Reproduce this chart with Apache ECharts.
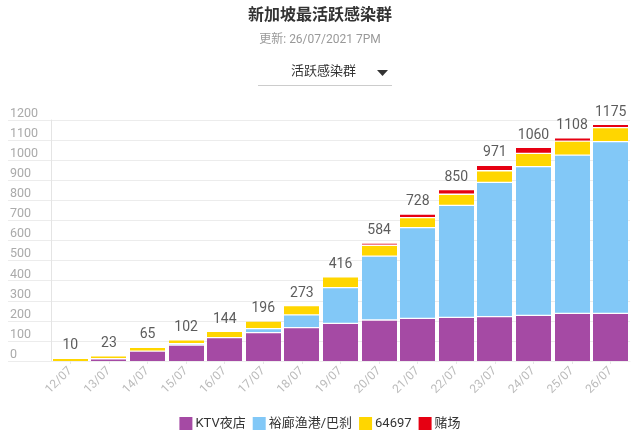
<!DOCTYPE html>
<html>
<head>
<meta charset="utf-8">
<script src="https://cdn.jsdelivr.net/npm/echarts@6/dist/echarts.min.js"></script>
<style>html,body{margin:0;padding:0;background:#fff}#c{width:640px;height:437px}</style>
</head>
<body>
<div id="c"></div>
<script>
const categories = ['12/07','13/07','14/07','15/07','16/07','17/07','18/07','19/07','20/07','21/07','22/07','23/07','24/07','25/07','26/07'];
const ktv = [0, 8, 46, 76, 113, 138, 163, 184, 201, 209, 214, 218, 224, 234, 234];
const jurong = [0, 0, 0, 7, 0, 20, 63, 178, 318, 452, 558, 668, 741, 788, 855];
const c64697 = [10, 15, 19, 19, 31, 38, 47, 54, 54, 50, 55, 58, 66, 70, 70];
const casino = [0, 0, 0, 0, 0, 0, 0, 0, 11, 17, 23, 27, 29, 16, 16];
const totals = [10, 23, 65, 102, 144, 196, 273, 416, 584, 728, 850, 971, 1060, 1108, 1175];
const yTicks = [0, 1200, 100];
const seriesNames = ['KTV夜店', '裕廊渔港/巴刹', '64697', '赌场'];
const colors = ['#a54aa4', '#82c8f7', '#ffd600', '#e60012'];

const FONT = 'Roboto, "Noto Sans CJK SC", sans-serif';
const chart = echarts.init(document.getElementById('c'), null, {renderer: 'canvas'});
const dataSets = [ktv, jurong, c64697, casino];

function makeRender(si) {
  return function (params, api) {
    const idx = api.value(0);
    const v = api.value(1);
    if (!v) return null;
    let base = 0;
    for (let k = 0; k < si; k++) base += dataSets[k][idx];
    const p0 = api.coord([idx, base]);
    const p1 = api.coord([idx, base + v]);
    const bw = api.size([1, 0])[0] * 0.906;
    const x = Math.round(p0[0] - bw / 2);
    const yTop = p1[1];
    const yBot = base > 0 ? p0[1] - 1.3 : p0[1];
    return {
      type: 'rect',
      shape: {x: x, y: yTop, width: Math.round(bw), height: Math.max(yBot - yTop, 0)},
      style: {fill: colors[si]}
    };
  };
}

chart.setOption({
  animation: false,
  textStyle: {fontFamily: FONT},
  title: [{
    text: '新加坡最活跃感染群',
    left: 'center', top: 3,
    textStyle: {fontSize: 16, fontWeight: 'bold', color: '#333', fontFamily: FONT}
  }, {
    text: '更新: 26/07/2021 7PM',
    left: 'center', top: 29,
    textStyle: {fontSize: 12, fontWeight: 'normal', color: '#999', fontFamily: FONT}
  }],
  graphic: [
    {type: 'text', left: 291, top: 65, style: {text: '活跃感染群', fontSize: 13, fill: '#333', fontFamily: FONT}},
    {type: 'polygon', shape: {points: [[377, 70], [388, 70], [382.5, 76]]}, style: {fill: '#333'}},
    {type: 'line', shape: {x1: 258, y1: 85.5, x2: 392, y2: 85.5}, style: {stroke: '#ccc', lineWidth: 1}}
  ],
  legend: {
    data: seriesNames,
    top: 412, left: 'center',
    icon: 'rect', itemWidth: 13, itemHeight: 13, itemGap: 7,
    textStyle: {fontSize: 13, color: '#333', fontFamily: FONT, padding: [0, 0, 0, -2]}
  },
  grid: [
    {left: 8, right: 10, top: 120, bottom: 76},
    {left: 51, right: 10, top: 120, bottom: 76}
  ],
  xAxis: [
    {gridIndex: 0, type: 'value', show: false, min: 0, max: 1},
    {
      gridIndex: 1, type: 'category', data: categories,
      axisLine: {show: true, lineStyle: {color: '#eeeeee'}},
      axisTick: {show: true, alignWithLabel: true, length: 3, lineStyle: {color: '#e6e6e6'}},
      axisLabel: {rotate: 45, color: '#bbbbbb', fontSize: 12, margin: 8, fontFamily: FONT}
    }
  ],
  yAxis: [
    {
      gridIndex: 0, type: 'value', min: yTicks[0], max: yTicks[1], interval: yTicks[2],
      axisLine: {show: false}, axisTick: {show: false},
      splitLine: {show: true, lineStyle: {color: '#ececec'}},
      axisLabel: {inside: true, margin: 2, verticalAlign: 'bottom', color: '#aaaaaa', fontSize: 12.5, fontFamily: FONT,
        formatter: (v) => String(v)}
    },
    {
      gridIndex: 1, type: 'value', min: yTicks[0], max: yTicks[1], interval: yTicks[2],
      axisLine: {show: true, lineStyle: {color: '#e4e4e4'}}, axisTick: {show: false},
      splitLine: {show: false}, axisLabel: {show: false}
    }
  ],
  series: seriesNames.map((n, i) => ({
    name: n, type: 'custom', xAxisIndex: 1, yAxisIndex: 1,
    renderItem: makeRender(i),
    encode: {x: 0, y: 1},
    itemStyle: {color: colors[i]},
    data: dataSets[i].map((v, j) => [j, v])
  })).concat([{
    name: 'total', type: 'scatter', xAxisIndex: 1, yAxisIndex: 1,
    symbolSize: 0, data: totals.map((v, j) => [j, v]),
    label: {
      show: true, position: 'top', distance: 6, color: '#333', fontSize: 14, fontFamily: FONT,
      formatter: (p) => String(totals[p.dataIndex])
    }
  }])
});
</script>
</body>
</html>
